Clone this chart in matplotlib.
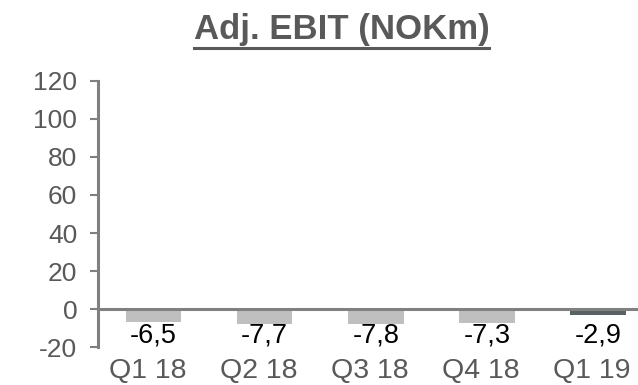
import numpy as np
import matplotlib.pyplot as plt
import matplotlib.lines as mlines

plt.rcParams['font.family'] = ['Liberation Sans', 'DejaVu Sans']
plt.rcParams['axes.unicode_minus'] = False

# Data
quarters = ['Q1 18', 'Q2 18', 'Q3 18', 'Q4 18', 'Q1 19']
ebit = [-6.5, -7.7, -7.8, -7.3, -2.9]
bar_colors = ['#bfbfbf', '#bfbfbf', '#bfbfbf', '#bfbfbf', '#5a6266']
yticks = [-20, 0, 20, 40, 60, 80, 100, 120]

W, H = 638, 385
fig = plt.figure(figsize=(W / 100, H / 100), dpi=100)
# axes deliberately runs past right edge (cropped in the original)
ax = fig.add_axes([98 / W, 1 - 347.3 / H, 555.5 / W, 266.6 / H])

x = np.arange(len(quarters))
ax.bar(x, ebit, width=0.5, color=bar_colors, zorder=2)
ax.set_xlim(-0.5, len(quarters) - 0.5)
ax.set_ylim(-20, 120)
ax.set_yticks(yticks)

grey = '#808080'
ax.spines['top'].set_visible(False)
ax.spines['right'].set_visible(False)
ax.spines['left'].set_color(grey)
ax.spines['left'].set_linewidth(2.2)
ax.spines['bottom'].set_position(('data', 0))
ax.spines['bottom'].set_color(grey)
ax.spines['bottom'].set_linewidth(2.2)
ax.spines['bottom'].set_zorder(3)
ax.tick_params(axis='y', length=6, width=1.5, color=grey, direction='out',
               labelsize=19, labelcolor='#595959', pad=9)
ax.tick_params(axis='x', length=0, labelbottom=False)

# value labels and category labels below the plot
for i, v in enumerate(ebit):
    ax.annotate(f'{v:.1f}'.replace('.', ','), (i, -20), xycoords='data',
                xytext=(0, 4.5), textcoords='offset pixels',
                ha='center', va='baseline', fontsize=19.5, color='black')
    ax.annotate(quarters[i], (i, -20), xycoords='data',
                xytext=(-6, -31), textcoords='offset pixels',
                ha='center', va='baseline', fontsize=20.5, color='#595959')

# underlined title
title = fig.text(341.6 / W, 1 - 30 / H, 'Adj. EBIT (NOKm)', ha='center', va='center',
                 fontsize=25, fontweight='bold', color='#595959')
fig.canvas.draw()
bb = title.get_window_extent().transformed(fig.transFigure.inverted())
fig.add_artist(mlines.Line2D([bb.x0, bb.x1], [1 - 48 / H] * 2, transform=fig.transFigure,
                             color='#595959', linewidth=2.2))

fig.savefig('out.png', dpi=100)
